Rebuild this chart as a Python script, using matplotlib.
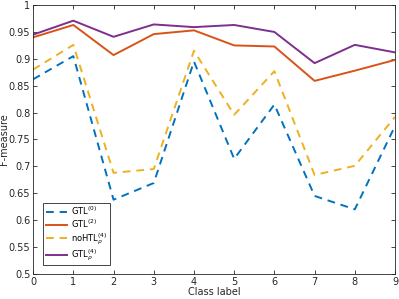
import matplotlib
matplotlib.use("Agg")
from matplotlib import pyplot as plt

labels = [0, 1, 2, 3, 4, 5, 6, 7, 8, 9]
gtl0 = [0.862, 0.905, 0.638, 0.669, 0.895, 0.714, 0.815, 0.645, 0.620, 0.775]
gtl2 = [0.940, 0.963, 0.907, 0.946, 0.953, 0.925, 0.923, 0.859, 0.878, 0.898]
nohtl = [0.880, 0.926, 0.688, 0.695, 0.915, 0.796, 0.877, 0.684, 0.701, 0.792]
gtlp = [0.945, 0.971, 0.941, 0.964, 0.959, 0.963, 0.950, 0.892, 0.926, 0.912]

plt.rcParams['font.family'] = 'DejaVu Sans'
plt.rcParams['font.size'] = 7

fig = plt.figure(figsize=(3.99, 2.99), dpi=100)
ax = fig.add_axes([0.083, 0.084, 0.907, 0.899])

ax.plot(labels, gtl0, color='#0072BD', lw=1.4, ls=(0, (4, 3)), label=r'GTL$^{(0)}$')
ax.plot(labels, gtl2, color='#D95319', lw=1.4, label=r'GTL$^{(2)}$')
ax.plot(labels, nohtl, color='#EDB120', lw=1.4, ls=(0, (4, 3)), label=r'noHTL$^{(4)}_{\rho}$')
ax.plot(labels, gtlp, color='#7E2F8E', lw=1.4, label=r'GTL$^{(4)}_{\rho}$')

ax.set_xlim(0, 9)
ax.set_ylim(0.5, 1)
ax.set_xticks(labels)
ax.set_yticks([0.5, 0.55, 0.6, 0.65, 0.7, 0.75, 0.8, 0.85, 0.9, 0.95, 1])
ax.set_yticklabels(['0.5', '0.55', '0.6', '0.65', '0.7', '0.75', '0.8', '0.85', '0.9', '0.95', '1'])
ax.tick_params(direction='in', top=True, right=True, length=3, width=0.6, colors='#262626', pad=2)
for s in ax.spines.values():
    s.set_color('#262626')
    s.set_linewidth(0.6)
ax.set_xlabel('Class label', labelpad=0, color='#262626')
ax.set_ylabel('F-measure', color='#262626')
ax.yaxis.set_label_coords(-0.068, 0.5)

leg = ax.legend(loc='lower left', fontsize=6, fancybox=False, framealpha=1,
                edgecolor='#262626', handlelength=2.6, handletextpad=0.5,
                borderpad=0.25, labelspacing=0.1, bbox_to_anchor=(0.017, 0.017))
leg.get_frame().set_linewidth(0.6)

fig.savefig('out.png', dpi=100)
